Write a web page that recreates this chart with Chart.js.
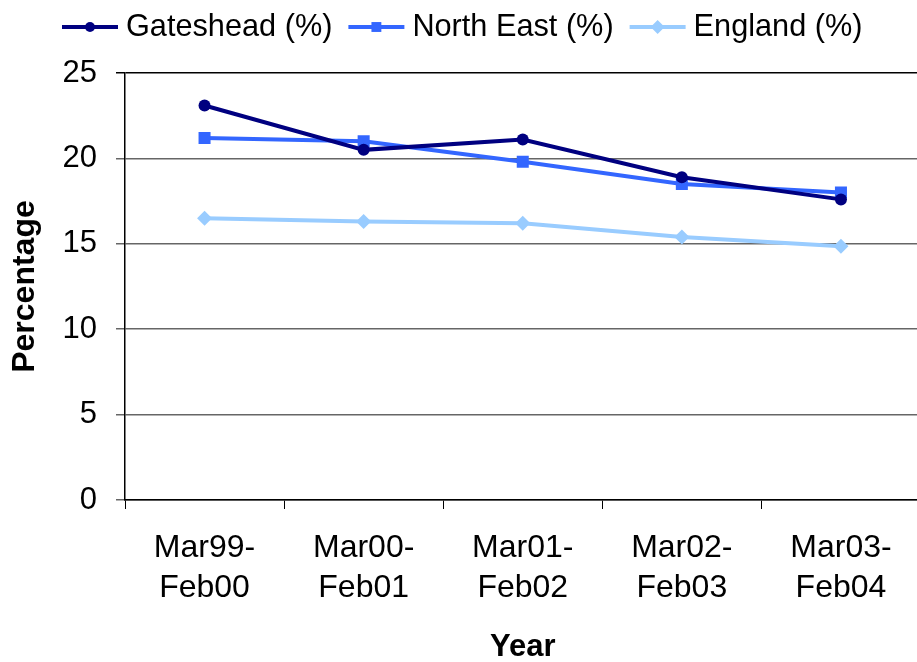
<!DOCTYPE html>
<html><head><meta charset="utf-8">
<script src="https://cdn.jsdelivr.net/npm/chart.js@4"></script>
<style>html,body{margin:0;padding:0;overflow:hidden;background:#fff}#wrap{width:929px;height:662px}</style>
</head><body><div id="wrap"><canvas id="c" width="929" height="662"></canvas></div>
<script>
const categories = [['Mar99-','Feb00'],['Mar00-','Feb01'],['Mar01-','Feb02'],['Mar02-','Feb03'],['Mar03-','Feb04']];
const gateshead = [23.1, 20.5, 21.1, 18.9, 17.6];
const northEast = [21.2, 21.0, 19.8, 18.5, 18.0];
const england = [16.5, 16.3, 16.2, 15.4, 14.85];
const seriesNames = ['Gateshead (%)', 'North East (%)', 'England (%)'];
const seriesColors = ['#000080', '#3366FF', '#99CCFF'];
const yTicks = [0, 5, 10, 15, 20, 25];
const FONT = '"Liberation Sans", Arial, sans-serif';

function markerPath(ctx, style, x, y, r) {
  ctx.beginPath();
  if (style === 'circle') { ctx.arc(x, y, r, 0, Math.PI * 2); }
  else if (style === 'rect') { const s = r * Math.SQRT1_2; ctx.rect(x - s, y - s, 2 * s, 2 * s); }
  else { ctx.moveTo(x, y - r); ctx.lineTo(x + r, y); ctx.lineTo(x, y + r); ctx.lineTo(x - r, y); ctx.closePath(); }
}

const legendPlugin = {
  id: 'customLegend',
  afterDraw(chart) {
    const ctx = chart.ctx;
    ctx.save();
    ctx.font = '30.7px ' + FONT;
    ctx.textBaseline = 'middle';
    ctx.textAlign = 'left';
    let x = 62; const y = 27;
    chart.data.datasets.forEach(ds => {
      ctx.strokeStyle = ds.borderColor; ctx.lineWidth = 4;
      ctx.beginPath(); ctx.moveTo(x, y); ctx.lineTo(x + 56, y); ctx.stroke();
      ctx.fillStyle = ds.backgroundColor;
      markerPath(ctx, ds.pointStyle, x + 28, y, ds.pointStyle === 'circle' ? 5 : 7);
      ctx.fill();
      ctx.fillStyle = '#000';
      ctx.fillText(ds.label, x + 64, y + 1);
      x = x + 64 + ctx.measureText(ds.label).width + 16;
    });
    ctx.restore();
  }
};

const styles = ['circle', 'rect', 'rectRot'];
const radii = [6, 8.5, 7.5];
const values = [gateshead, northEast, england];

new Chart(document.getElementById('c'), {
  type: 'line',
  data: {
    labels: categories,
    datasets: values.map((v, i) => ({
      label: seriesNames[i],
      data: v,
      borderColor: seriesColors[i],
      backgroundColor: seriesColors[i],
      pointBackgroundColor: seriesColors[i],
      pointBorderColor: seriesColors[i],
      pointStyle: styles[i],
      pointRadius: radii[i],
      pointBorderWidth: 0,
      borderWidth: 4,
      tension: 0
    }))
  },
  options: {
    responsive: false,
    animation: false,
    devicePixelRatio: 1,
    layout: { padding: { top: 73, left: 0, right: 0, bottom: 0 } },
    plugins: { legend: { display: false }, tooltip: { enabled: false } },
    scales: {
      x: {
        offset: true,
        grid: { offset: true, drawOnChartArea: false, drawTicks: true, tickLength: 9, color: '#000', lineWidth: 1 },
        border: { color: '#000', width: 1.5 },
        ticks: { color: '#000', font: { family: FONT, size: 32, lineHeight: 1.25 }, padding: 19, maxRotation: 0, autoSkip: false },
        title: { display: true, text: 'Year', color: '#000', font: { family: FONT, size: 31, weight: 'bold' }, padding: { top: 0, bottom: -4 } },
        afterFit(scale) { scale.height = 162; }
      },
      y: {
        min: 0, max: 25,
        afterBuildTicks(scale) { scale.ticks = yTicks.map(v => ({ value: v })); },
        grid: {
          color: c => (c.tick && c.tick.value === 25) ? '#000' : '#666',
          lineWidth: 1.5, tickLength: 9
        },
        border: { color: '#000', width: 1.5 },
        ticks: { color: '#000', font: { family: FONT, size: 31 }, padding: 19 },
        title: { display: true, text: 'Percentage', color: '#000', font: { family: FONT, size: 32, weight: 'bold' }, padding: { top: 6, bottom: 0 } },
        afterFit(scale) { scale.width = 125; }
      }
    }
  },
  plugins: [legendPlugin]
});
</script>
</body></html>
